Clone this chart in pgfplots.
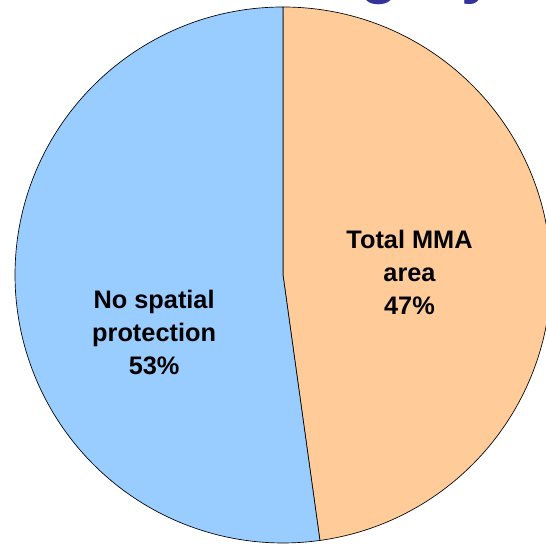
\documentclass[border=0pt]{standalone}
\usepackage{fontspec}
\setmainfont{Liberation Sans}
\usepackage{pgfplots}
\usepackage{pgfplotstable}
\pgfplotsset{compat=1.18}
\definecolor{mmaorange}{RGB}{255,204,153}
\definecolor{noblue}{RGB}{153,204,255}
\definecolor{titleblue}{RGB}{51,51,153}

% share of area (%)
\pgfplotstableread{
share
47.8
52.2
}\piedata

\begin{document}
\begin{tikzpicture}
\useasboundingbox (0,0) rectangle (409.5pt,408pt);
\clip (0,0) rectangle (409.5pt,408pt);
\pgfplotstablegetelem{0}{share}\of\piedata
\let\sharea\pgfplotsretval
\begin{axis}[
  at={(0,0)}, anchor=south west,
  scale only axis,
  width=409.5pt, height=408pt,
  xmin=-1.0560, xmax=0.9813,
  ymin=-1.0037, ymax=1.0261,
  hide axis,
  clip=false,
]
\pgfmathsetmacro\enda{90-3.6*\sharea}
% Total MMA area
\filldraw[fill=mmaorange, draw=black, line width=0.5pt]
  (axis cs:0,0) -- (axis cs:0,1)
  arc[start angle=90, end angle=\enda, radius=201pt] -- cycle;
% No spatial protection
\filldraw[fill=noblue, draw=black, line width=0.5pt]
  (axis cs:0,0) -- (axis cs:0,1)
  arc[start angle=90, end angle=\enda+360, radius=201pt] -- cycle;

\node[align=center, font=\bfseries\fontsize{19}{24.75}\selectfont]
  at (axis cs:0.472,0.011) {Total MMA\\area\\47\%};
\node[align=center, font=\bfseries\fontsize{19}{24.75}\selectfont]
  at (axis cs:-0.481,-0.213) {No spatial\\protection\\53\%};

% title above the chart, only its descenders show
\node[anchor=base east, inner sep=0pt, text=titleblue,
  font=\bfseries\fontsize{47}{50}\selectfont]
  at (axis cs:0.797,1.058) {Category};
\end{axis}
\end{tikzpicture}
\end{document}
